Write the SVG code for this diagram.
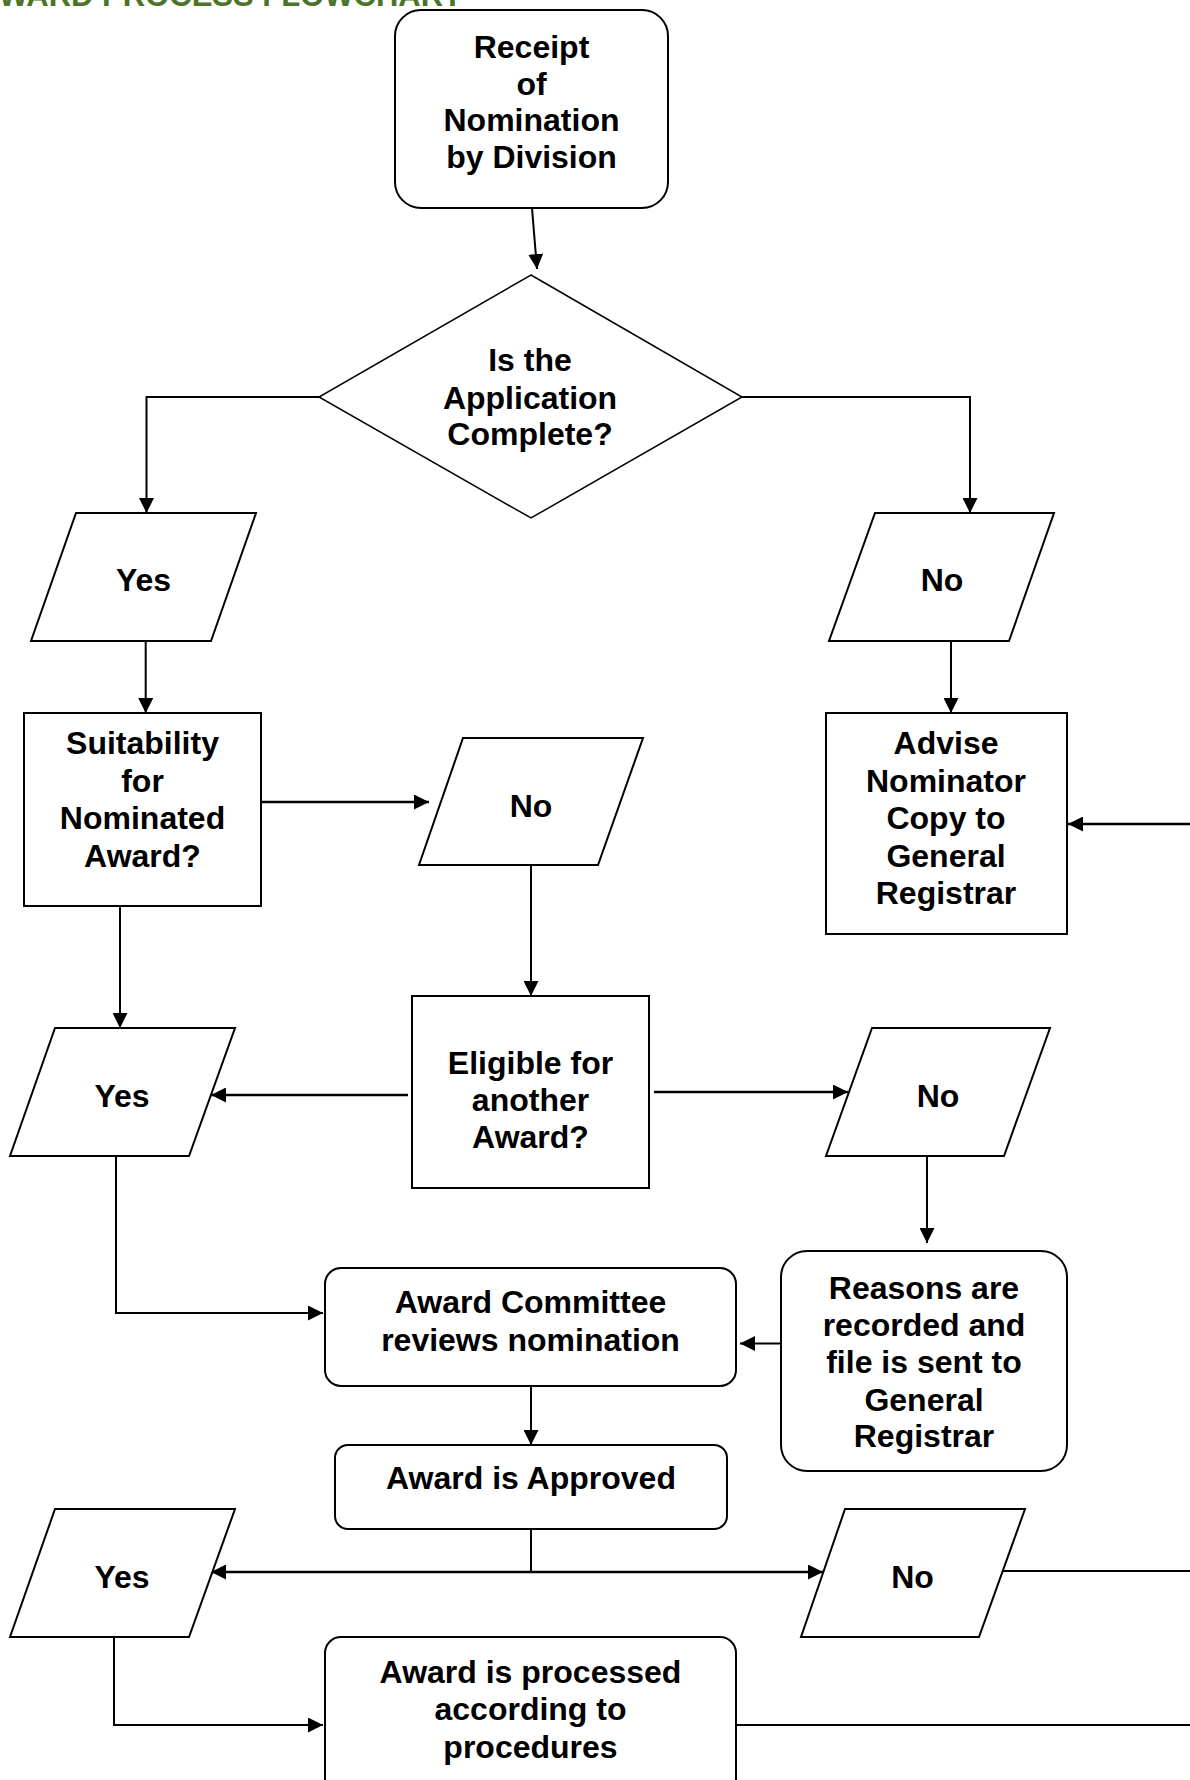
<svg xmlns="http://www.w3.org/2000/svg" width="1190" height="1780" viewBox="0 0 1190 1780">
<defs>
<marker id="ah" markerUnits="userSpaceOnUse" markerWidth="15" markerHeight="15" refX="15" refY="7.5" orient="auto" viewBox="0 0 15 15"><path d="M0,0 L15,7.5 L0,15 z" fill="#000"/></marker>
<style>
.t{font-family:"Liberation Sans",Arial,sans-serif;font-weight:bold;font-size:32px;text-anchor:middle;fill:#000}
.s{fill:#fff;stroke:#000;stroke-width:2}
.c{fill:none;stroke:#000;stroke-width:2;marker-end:url(#ah)}
.p{fill:none;stroke:#000;stroke-width:2}
.title{font-family:"Liberation Sans",Arial,sans-serif;font-weight:bold;font-size:31px;text-anchor:end;fill:#4a7428}
</style>
</defs>
<rect width="1190" height="1780" fill="#fff"/>
<text class="title" x="462" y="6">AWARD PROCESS FLOWCHART</text>

<g id="connectors">
<path class="c" d="M532,208 L537,269"/>
<path class="c" d="M319,397 H146.5 V513"/>
<path class="c" d="M742,397 H970 V513"/>
<path class="c" d="M145.7,641 V713"/>
<path class="c" d="M951,641 V713"/>
<path class="c" style="stroke-width:2.5" d="M261,802 H429"/>
<path class="c" d="M531,865 V996"/>
<path class="c" d="M120,906 V1028"/>
<path class="c" style="stroke-width:2.5" d="M408,1095 H211"/>
<path class="c" style="stroke-width:2.5" d="M654,1092 H848"/>
<path class="c" d="M927,1156 V1243"/>
<path class="c" d="M781,1343.5 H740"/>
<path class="c" d="M116,1156 V1313 H323"/>
<path class="c" d="M531,1386 V1445"/>
<path class="p" d="M531,1529 V1572"/>
<path class="c" style="stroke-width:2.5" d="M531,1572 H211"/>
<path class="c" style="stroke-width:2.5" d="M531,1572 H823"/>
<path class="p" d="M1003,1571 H1190"/>
<path class="c" d="M114,1637 V1725 H323"/>
<path class="p" d="M736,1725 H1190"/>
<path class="c" style="stroke-width:2.5" d="M1190,824 H1068"/>
</g>

<g id="receipt">
<rect class="s" x="395" y="10" width="273" height="198" rx="26"/>
<text class="t" x="531.5" y="58">Receipt</text>
<text class="t" x="531.5" y="94.5">of</text>
<text class="t" x="531.5" y="131">Nomination</text>
<text class="t" x="531.5" y="168">by Division</text>
</g>

<g id="decision">
<polygon class="s" style="stroke-width:1.5" points="531,275 742,397 531,518 319,397"/>
<text class="t" x="530" y="371">Is the</text>
<text class="t" x="530" y="408.5">Application</text>
<text class="t" x="530" y="445">Complete?</text>
</g>

<g id="yes1">
<polygon class="s" points="76,513 256,513 211,641 31,641"/>
<text class="t" x="143.5" y="591">Yes</text>
</g>

<g id="no1">
<polygon class="s" points="875,513 1054,513 1009,641 829,641"/>
<text class="t" x="942" y="591">No</text>
</g>

<g id="suitability">
<rect class="s" x="24" y="713" width="237" height="193"/>
<text class="t" x="142.5" y="754">Suitability</text>
<text class="t" x="142.5" y="791.5">for</text>
<text class="t" x="142.5" y="829">Nominated</text>
<text class="t" x="142.5" y="866.5">Award?</text>
</g>

<g id="no_mid">
<polygon class="s" points="463,738 643,738 598,865 419,865"/>
<text class="t" x="531" y="817">No</text>
</g>

<g id="advise">
<rect class="s" x="826" y="713" width="241" height="221"/>
<text class="t" x="946" y="754">Advise</text>
<text class="t" x="946" y="791.5">Nominator</text>
<text class="t" x="946" y="829">Copy to</text>
<text class="t" x="946" y="866.5">General</text>
<text class="t" x="946" y="904">Registrar</text>
</g>

<g id="eligible">
<rect class="s" x="412" y="996" width="237" height="192"/>
<text class="t" x="530.5" y="1074">Eligible for</text>
<text class="t" x="530.5" y="1111">another</text>
<text class="t" x="530.5" y="1148">Award?</text>
</g>

<g id="yes2">
<polygon class="s" points="55,1028 235,1028 189,1156 10,1156"/>
<text class="t" x="122" y="1107">Yes</text>
</g>

<g id="no2">
<polygon class="s" points="872,1028 1050,1028 1004,1156 826,1156"/>
<text class="t" x="938" y="1107">No</text>
</g>

<g id="committee">
<rect class="s" x="325" y="1268" width="411" height="118" rx="16"/>
<text class="t" x="530.5" y="1312.5">Award Committee</text>
<text class="t" x="530.5" y="1351">reviews nomination</text>
</g>

<g id="reasons">
<rect class="s" x="781" y="1251" width="286" height="220" rx="26"/>
<text class="t" x="924" y="1299">Reasons are</text>
<text class="t" x="924" y="1336">recorded and</text>
<text class="t" x="924" y="1373">file is sent to</text>
<text class="t" x="924" y="1410.5">General</text>
<text class="t" x="924" y="1447">Registrar</text>
</g>

<g id="approved">
<rect class="s" x="335" y="1445" width="392" height="84" rx="13"/>
<text class="t" x="531" y="1488.5">Award is Approved</text>
</g>

<g id="yes3">
<polygon class="s" points="55,1509 235,1509 189,1637 10,1637"/>
<text class="t" x="122" y="1587.5">Yes</text>
</g>

<g id="no3">
<polygon class="s" points="845,1509 1025,1509 979,1637 801,1637"/>
<text class="t" x="912.5" y="1587.5">No</text>
</g>

<g id="procedures">
<rect class="s" x="325" y="1637" width="411" height="170" rx="16"/>
<text class="t" x="530.5" y="1682.5">Award is processed</text>
<text class="t" x="530.5" y="1720">according to</text>
<text class="t" x="530.5" y="1757.5">procedures</text>
</g>
</svg>
